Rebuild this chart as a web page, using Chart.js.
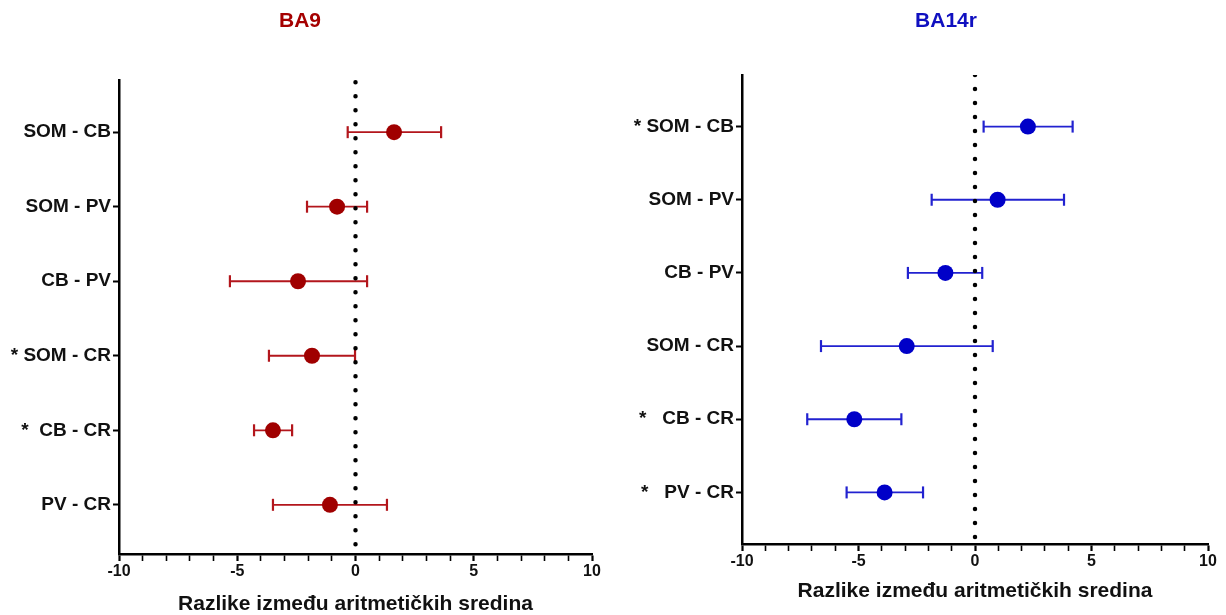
<!DOCTYPE html>
<html lang="hr">
<head>
<meta charset="UTF-8">
<title>BA9 / BA14r</title>
<script src="https://cdn.jsdelivr.net/npm/chart.js"></script>
<style>
  body { margin: 0; background: #fff; }
  canvas { position: absolute; top: 0; }
</style>
</head>
<body>
<canvas id="leftChart" width="613" height="615" style="left:0"></canvas>
<canvas id="rightChart" width="613" height="615" style="left:613px"></canvas>
<script>
// data
const labelsBA9 = ['SOM - CB', 'SOM - PV', 'CB - PV', '* SOM - CR', '*  CB - CR', 'PV - CR'];
const meanBA9 = [1.63, -0.78, -2.43, -1.84, -3.49, -1.08];
const lowBA9  = [-0.33, -2.05, -5.31, -3.66, -4.29, -3.49];
const highBA9 = [3.62, 0.49, 0.49, -0.02, -2.68, 1.33];

const labelsBA14r = ['* SOM - CB', 'SOM - PV', 'CB - PV', 'SOM - CR', '*   CB - CR', '*   PV - CR'];
const meanBA14r = [2.27, 0.97, -1.27, -2.93, -5.18, -3.88];
const lowBA14r  = [0.37, -1.86, -2.88, -6.61, -7.20, -5.51];
const highBA14r = [4.19, 3.82, 0.31, 0.76, -3.16, -2.23];

const xTickLabels = [-10, -5, 0, 5, 10];
const xAxisTitle = 'Razlike između aritmetičkih sredina';

const FONT = 'Liberation Sans, Arial, sans-serif';

// y labels are clipped to the scale box; let them use the padding on the left
const wideLabels = {
    id: 'wideLabels',
    afterLayout(chart) { chart.scales.y.left = 0; }
};

function makeChart(id, o) {
    const datasets = [];
    // points on top
    datasets.push({
        data: o.mean.map((v, i) => ({ x: v, y: i })),
        pointRadius: 8,
        pointBackgroundColor: o.color,
        pointBorderColor: o.color,
        pointBorderWidth: 0,
        showLine: false
    });
    // dotted zero line
    datasets.push({
        data: [{ x: 0, y: o.yMin }, { x: 0, y: o.yMax }],
        showLine: true,
        pointRadius: 0,
        borderColor: '#000',
        borderWidth: 4.5,
        borderDash: [0, 14],
        borderDashOffset: o.dashOffset,
        borderCapStyle: 'round'
    });
    // error bars, one dataset per row
    o.low.forEach((lo, i) => {
        datasets.push({
            data: [{ x: lo, y: i }, { x: o.high[i], y: i }],
            showLine: true,
            borderColor: o.barColor,
            borderWidth: 1.8,
            pointStyle: 'line',
            rotation: 90,
            pointRadius: 6,
            pointBorderWidth: 2.2,
            pointBorderColor: o.barColor
        });
    });

    new Chart(document.getElementById(id), {
        type: 'scatter',
        data: { datasets: datasets },
        plugins: [wideLabels],
        options: {
            responsive: false,
            animation: false,
            events: [],
            layout: { padding: o.padding },
            plugins: {
                legend: { display: false },
                tooltip: { enabled: false },
                title: {
                    display: true,
                    text: o.title,
                    color: o.titleColor,
                    font: { family: FONT, size: 21, weight: 'bold' },
                    padding: { top: 8.4, bottom: o.titleGap }
                }
            },
            scales: {
                x: {
                    type: 'linear',
                    min: -10,
                    max: 10,
                    ticks: {
                        stepSize: 1,
                        autoSkip: false,
                        maxRotation: 0,
                        padding: 1,
                        color: '#111',
                        font: { family: FONT, size: 16, weight: 'bold' },
                        callback: v => xTickLabels.includes(v) ? String(v) : ''
                    },
                    grid: {
                        drawOnChartArea: false,
                        tickLength: 7,
                        tickColor: '#000',
                        tickWidth: ctx => (ctx.tick && ctx.tick.value % 5 === 0) ? 2.2 : 1.6
                    },
                    border: { color: '#000', width: 2.5 },
                    title: {
                        display: true,
                        text: xAxisTitle,
                        color: '#111',
                        font: { family: FONT, size: 21, weight: 'bold', lineHeight: 1 },
                        padding: { top: o.xTitleGap, bottom: 0 }
                    }
                },
                y: {
                    type: 'linear',
                    reverse: true,
                    min: o.yMin,
                    max: o.yMax,
                    afterBuildTicks: s => { s.ticks = o.labels.map((_, i) => ({ value: i })); },
                    afterFit: s => { s.width = o.yWidth; },
                    ticks: {
                        autoSkip: false,
                        padding: 2,
                        color: '#111',
                        font: { family: FONT, size: 19, weight: 'bold' },
                        callback: v => o.labels[v]
                    },
                    grid: {
                        drawOnChartArea: false,
                        tickLength: 6,
                        tickWidth: 2,
                        tickColor: '#000'
                    },
                    border: { color: '#000', width: 2.5 }
                }
            }
        }
    });
}

makeChart('leftChart', {
    title: 'BA9', titleColor: '#A50000', titleGap: 46.4,
    labels: labelsBA9, mean: meanBA9, low: lowBA9, high: highBA9,
    color: '#A00000', barColor: '#B3161C',
    yMin: -0.7, yMax: 5.66, yWidth: 111, xTitleGap: 11.8, dashOffset: -2.3,
    padding: { left: 8, right: 21, top: 0, bottom: 0 }
});

makeChart('rightChart', {
    title: 'BA14r', titleColor: '#1010C0', titleGap: 41.4,
    labels: labelsBA14r, mean: meanBA14r, low: lowBA14r, high: highBA14r,
    color: '#0000C8', barColor: '#2222D0',
    yMin: -0.705, yMax: 5.705, yWidth: 58, xTitleGap: 8.3, dashOffset: 0,
    padding: { left: 71, right: 18, top: 0, bottom: 13.5 }
});
</script>
</body>
</html>
